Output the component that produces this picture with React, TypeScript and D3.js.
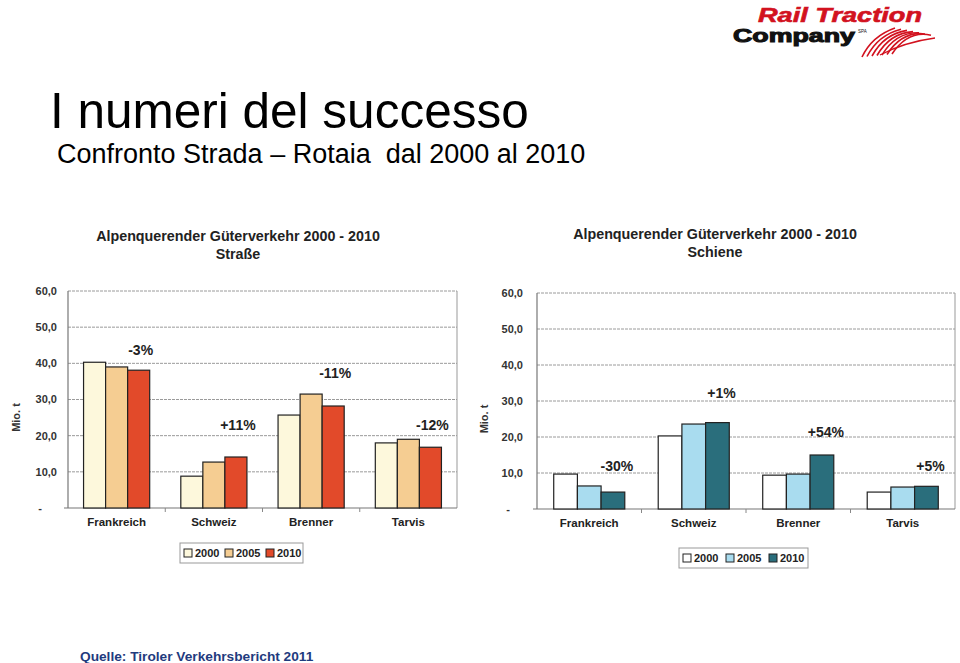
import React from "react";
import * as d3 from "d3";

const categories = ["Frankreich", "Schweiz", "Brenner", "Tarvis"];
const years = ["2000", "2005", "2010"];

const roadValues: number[][] = [
  [40.3, 39.0, 38.1],
  [8.8, 12.7, 14.1],
  [25.7, 31.5, 28.2],
  [18.0, 19.0, 16.8],
];
const railValues: number[][] = [
  [9.7, 6.4, 4.7],
  [20.3, 23.6, 24.0],
  [9.4, 9.7, 15.0],
  [4.7, 6.1, 6.3],
];
const roadChanges = ["-3%", "+11%", "-11%", "-12%"];
const roadChangeLevels = [43.7, 22.9, 37.3, 22.9];
const railChanges = ["-30%", "+1%", "+54%", "+5%"];
const railChangeLevels = [11.9, 32.2, 21.4, 11.9];

const yTicks = [0, 10, 20, 30, 40, 50, 60];
const yTickLabels = ["-", "10,0", "20,0", "30,0", "40,0", "50,0", "60,0"];

const roadColors = ["#fdf8dc", "#f5cd92", "#e24a2a"];
const railColors = ["#ffffff", "#a9dcef", "#2a6e7c"];

const FONT = "Liberation Sans, Arial, sans-serif";

type PanelProps = {
  values: number[][];
  changes: string[];
  levels: number[];
  colors: string[];
  subtitle: string;
  x0: number;
  x1: number;
  yTop: number;
  yBottom: number;
  titleX: number;
  titleY: number;
  tickX: number;
  zeroX: number;
  axisLabelX: number;
  legendX: number;
  legendY: number;
  legendW: number;
  changeDx: number;
};

function Panel(p: PanelProps) {
  const x = d3
    .scaleBand<string>()
    .domain(categories)
    .range([p.x0, p.x1])
    .paddingInner(0.32)
    .paddingOuter(0.16);
  const xs = d3.scaleBand<string>().domain(years).range([0, x.bandwidth()]);
  const y = d3.scaleLinear().domain([0, 60]).range([p.yBottom, p.yTop]);
  const step = x.step();
  return (
    <g fontFamily={FONT}>
      <text x={p.titleX} y={p.titleY} textAnchor="middle" fontSize={14.3} fontWeight="bold" fill="#222">
        Alpenquerender Güterverkehr 2000 - 2010
      </text>
      <text x={p.titleX} y={p.titleY + 18} textAnchor="middle" fontSize={14.3} fontWeight="bold" fill="#222">
        {p.subtitle}
      </text>
      {yTicks.slice(1).map((t) => (
        <line key={t} x1={p.x0} x2={p.x1} y1={y(t)} y2={y(t)} stroke="#9a9a9a" strokeWidth={1} strokeDasharray="3,1" />
      ))}
      <line x1={p.x0} x2={p.x0} y1={y(60)} y2={y(0)} stroke="#777" strokeWidth={1.2} />
      <line x1={p.x1} x2={p.x1} y1={y(60)} y2={y(0)} stroke="#999" strokeWidth={1} />
      <line x1={p.x0 - 4} x2={p.x1} y1={y(0)} y2={y(0)} stroke="#777" strokeWidth={1.2} />
      {categories.map((c, i) =>
        i === 0 ? null : (
          <line key={c} x1={p.x0 + step * i} x2={p.x0 + step * i} y1={y(0)} y2={y(0) + 4} stroke="#888" />
        )
      )}
      {yTicks.map((t, i) => (
        <text
          key={t}
          x={i === 0 ? p.zeroX : p.tickX}
          y={y(t)}
          dy="0.35em"
          textAnchor="end"
          fontSize={11}
          fontWeight="bold"
          fill="#333"
        >
          {yTickLabels[i]}
        </text>
      ))}
      <text
        transform={`translate(${p.axisLabelX},${(y(0) + y(60)) / 2 + 18}) rotate(-90)`}
        textAnchor="middle"
        fontSize={11}
        fontWeight="bold"
        fill="#333"
      >
        Mio. t
      </text>
      {categories.map((c, i) => (
        <g key={c}>
          {years.map((yr, j) => (
            <rect
              key={yr}
              x={(x(c) as number) + (xs(yr) as number)}
              y={y(p.values[i][j])}
              width={xs.bandwidth()}
              height={y(0) - y(p.values[i][j])}
              fill={p.colors[j]}
              stroke="#222"
              strokeWidth={1.2}
            />
          ))}
          <text
            x={(x(c) as number) + (xs("2010") as number) + xs.bandwidth() / 2 + p.changeDx}
            y={y(p.levels[i])}
            dy="0.35em"
            textAnchor="middle"
            fontSize={14}
            fontWeight="bold"
            fill="#222"
          >
            {p.changes[i]}
          </text>
          <text
            x={(x(c) as number) + x.bandwidth() / 2}
            y={y(0) + 18}
            textAnchor="middle"
            fontSize={11.5}
            fontWeight="bold"
            fill="#222"
          >
            {c}
          </text>
        </g>
      ))}
      <rect x={p.legendX} y={p.legendY} width={p.legendW} height={20} fill="#fff" stroke="#999" />
      {years.map((yr, j) => {
        const lx = p.legendX + 4 + j * (p.legendW / 3);
        return (
          <g key={yr}>
            <rect x={lx} y={p.legendY + 6} width={8} height={8} fill={p.colors[j]} stroke="#222" />
            <text x={lx + 11} y={p.legendY + 14} fontSize={11} fontWeight="bold" fill="#222">
              {yr}
            </text>
          </g>
        );
      })}
    </g>
  );
}

function Logo() {
  const swooshes = [0, 1, 2, 3, 4, 5, 6];
  return (
    <g fontFamily={FONT}>
      <text
        x={758}
        y={22}
        fontSize={20}
        fontWeight="bold"
        fontStyle="italic"
        fill="#d2121f"
        textLength={164}
        lengthAdjust="spacingAndGlyphs"
        stroke="#d2121f"
        strokeWidth={0.6}
      >
        Rail Traction
      </text>
      <text
        x={733}
        y={42}
        fontSize={18}
        fontWeight="bold"
        fill="#111"
        textLength={122}
        lengthAdjust="spacingAndGlyphs"
        stroke="#111"
        strokeWidth={1}
      >
        Company
      </text>
      <text x={858} y={33} fontSize={4.5} fill="#111">
        SPA
      </text>
      {swooshes.map((i) => (
        <path
          key={i}
          d={`M${862 + i * 5},${57 - i * 0.5} Q${872 + i * 6},${36 - i * 1} ${895 + i * 6},${28 + i * 1.2}`}
          fill="none"
          stroke="#d2121f"
          strokeWidth={1.6}
        />
      ))}
      <path d="M880,55 Q905,42 935,38" fill="none" stroke="#d2121f" strokeWidth={1.4} />
    </g>
  );
}

export default function App() {
  return (
    <svg
      width={960}
      height={663}
      style={{ position: "absolute", left: 0, top: 0, background: "#fff" }}
      xmlns="http://www.w3.org/2000/svg"
    >
      <rect width={960} height={663} fill="#fff" />
      <Logo />
      <text x={50} y={128} fontFamily={FONT} fontSize={49.5} fill="#000">
        I numeri del successo
      </text>
      <text x={57} y={163} fontFamily={FONT} fontSize={27} fill="#000" xmlSpace="preserve">
        Confronto Strada – Rotaia  dal 2000 al 2010
      </text>
      <Panel
        values={roadValues}
        changes={roadChanges}
        levels={roadChangeLevels}
        colors={roadColors}
        subtitle="Straße"
        x0={68}
        x1={457}
        yTop={291}
        yBottom={508}
        titleX={238}
        titleY={241}
        tickX={57}
        zeroX={42}
        axisLabelX={20}
        legendX={180}
        legendY={543}
        legendW={123}
        changeDx={2}
      />
      <Panel
        values={railValues}
        changes={railChanges}
        levels={railChangeLevels}
        colors={railColors}
        subtitle="Schiene"
        x0={537}
        x1={955}
        yTop={293}
        yBottom={509}
        titleX={715}
        titleY={239}
        tickX={523}
        zeroX={510}
        axisLabelX={488}
        legendX={679}
        legendY={548}
        legendW={129}
        changeDx={4}
      />
      <text x={80} y={661} fontFamily={FONT} fontSize={13.7} fontWeight="bold" fill="#1f3b7e">
        Quelle: Tiroler Verkehrsbericht 2011
      </text>
    </svg>
  );
}
